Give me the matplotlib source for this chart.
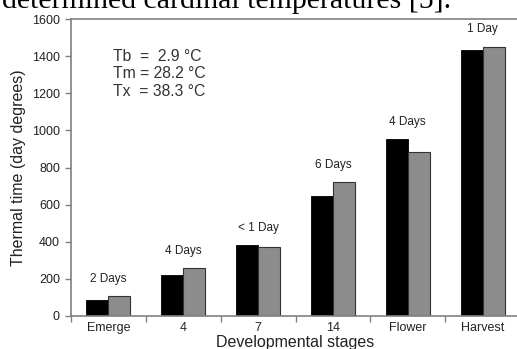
import numpy as np
import matplotlib.pyplot as plt

stages = ["Emerge", "4", "7", "14", "Flower", "Harvest"]
black_vals = [88, 220, 380, 645, 954, 1433]
gray_vals = [106, 258, 374, 720, 882, 1451]
day_labels = ["2 Days", "4 Days", "< 1 Day", "6 Days", "4 Days", "1 Day"]

plt.rcParams["font.family"] = ["Liberation Sans", "DejaVu Sans"]

fig = plt.figure(figsize=(5.17, 3.49), dpi=100)
ax = fig.add_axes([71 / 517, 33 / 349, 449 / 517, 297 / 349])

x = np.arange(len(stages))
w = 0.295
ax.bar(x - w / 2, black_vals, w, color="black", edgecolor="black", linewidth=0.6)
ax.bar(x + w / 2, gray_vals, w, color="#8c8c8c", edgecolor="#333333", linewidth=0.8)

for xi, b, g, lab in zip(x, black_vals, gray_vals, day_labels):
    ax.text(xi, max(b, g) + 93, lab, ha="center", va="center", fontsize=8.5, color="#222222")

ax.text(0.093, 0.815, "Tb  =  2.9 °C\nTm = 28.2 °C\nTx  = 38.3 °C", transform=ax.transAxes,
        ha="left", va="center", fontsize=11.3, color="#333333", linespacing=1.22)

ax.set_xlim(-0.5, len(stages) - 0.5)
ax.set_ylim(0, 1600)
ax.set_yticks(np.arange(0, 1601, 200))
ax.set_xticks(x)
ax.set_xticklabels(stages)
ax.set_xticks(np.arange(-0.5, len(stages), 1.0), minor=True)
ax.tick_params(axis="x", which="major", length=0, pad=4.5, labelsize=9, labelcolor="#222222")
ax.tick_params(axis="x", which="minor", length=4, width=1, color="#808080", direction="out")
ax.tick_params(axis="y", length=4, width=1, color="#808080", direction="out", pad=4,
               labelsize=9, labelcolor="#222222")

for side in ["left", "bottom", "top"]:
    ax.spines[side].set_color("#808080")
    ax.spines[side].set_linewidth(1.2)
ax.spines["right"].set_visible(False)

ax.set_ylabel("Thermal time (day degrees)", fontsize=11.5, color="#222222", labelpad=4)
ax.xaxis.set_label_coords(0.5, -0.064)
ax.set_xlabel("Developmental stages", fontsize=11.5, color="#222222", va="top")

fig.text(2 / 517, 1 - 7.5 / 349, "determined cardinal temperatures [5].",
         family=["Liberation Serif", "DejaVu Serif"], fontsize=21.5, va="baseline", ha="left")

fig.savefig("out.png", dpi=100)
